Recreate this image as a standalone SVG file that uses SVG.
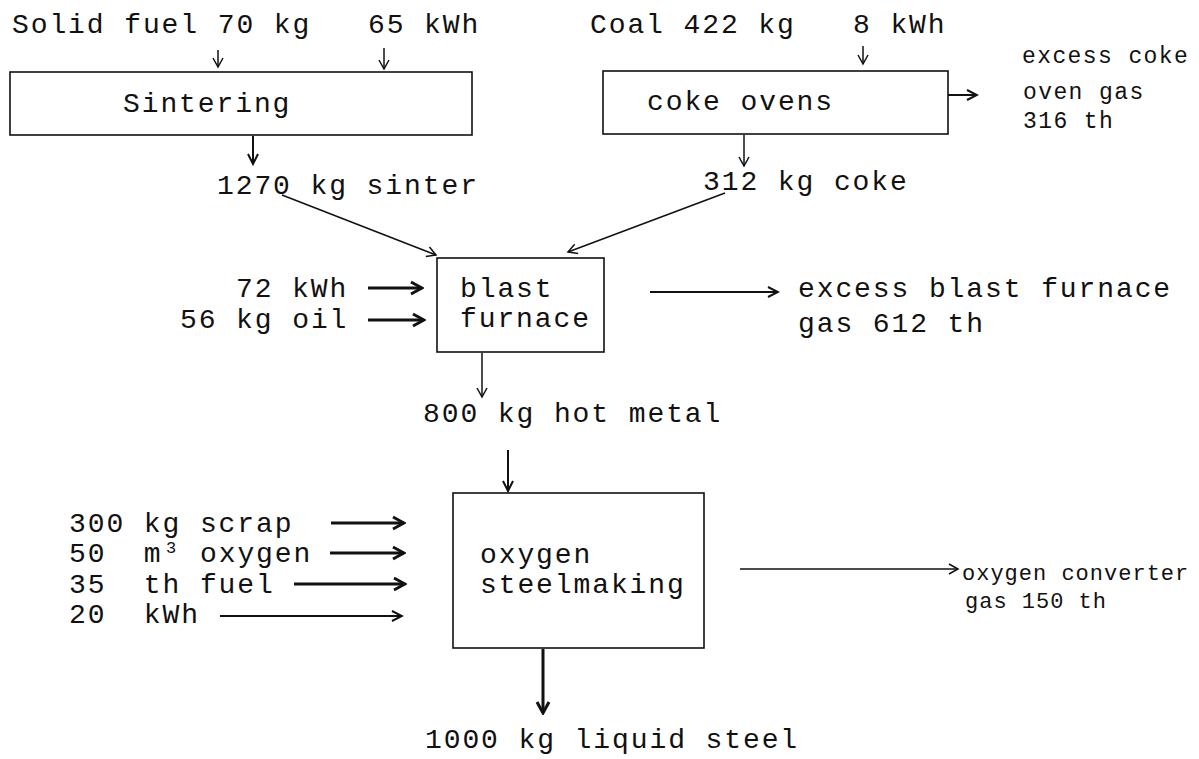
<svg xmlns="http://www.w3.org/2000/svg" width="1199" height="759" viewBox="0 0 1199 759">
<style>
text { font-family: "Liberation Mono", "Courier New", monospace; fill: #111; white-space: pre; }
.m { font-size: 28px; letter-spacing: 1.9px; }
.s { font-size: 23px; letter-spacing: 1.4px; }
.t { font-size: 22px; letter-spacing: 1.0px; }
.box { fill: none; stroke: #111; stroke-width: 1.6; }
.c1 { fill: none; stroke: #111; stroke-width: 1.5; marker-end: url(#a1); }
.c2 { fill: none; stroke: #111; stroke-width: 2; marker-end: url(#a2); }
.c3 { fill: none; stroke: #111; stroke-width: 3; marker-end: url(#a3); }
</style>
<defs>
<marker id="a1" markerUnits="userSpaceOnUse" viewBox="-14 -8 16 16" markerWidth="16" markerHeight="16" refX="0" refY="0" orient="auto">
<path d="M-9,-5 L0,0 L-9,5" fill="none" stroke="#111" stroke-width="1.5" stroke-linejoin="miter"/>
</marker>
<marker id="a2" markerUnits="userSpaceOnUse" viewBox="-14 -8 16 16" markerWidth="16" markerHeight="16" refX="0" refY="0" orient="auto">
<path d="M-10,-5 L0,0 L-10,5" fill="none" stroke="#111" stroke-width="2"/>
</marker>
<marker id="a3" markerUnits="userSpaceOnUse" viewBox="-14 -8 16 16" markerWidth="16" markerHeight="16" refX="0" refY="0" orient="auto">
<path d="M-11,-6 L0,0 L-11,6" fill="none" stroke="#111" stroke-width="3"/>
</marker>
</defs>
<rect width="1199" height="759" fill="#fff"/>

<g id="connectors">
<path class="c1" d="M218,50 V67"/>
<path class="c1" d="M384,48 V69"/>
<path class="c2" d="M253,136 V164"/>
<path class="c1" d="M863,46 V64"/>
<path class="c2" d="M948,95 H977"/>
<path class="c1" d="M744,135 V166"/>
<path class="c1" d="M282,195 L436,255"/>
<path class="c1" d="M725,193 L568,252"/>
<path class="c3" d="M368,288 H422"/>
<path class="c3" d="M368,320 H424"/>
<path class="c2" d="M650,292 H778"/>
<path class="c1" d="M482,353 V397"/>
<path class="c2" d="M508,450 V491"/>
<path class="c3" d="M331,523 H404"/>
<path class="c3" d="M330,553 H404"/>
<path class="c3" d="M294,584 H405"/>
<path class="c2" d="M220,616 H402"/>
<path class="c1" d="M740,569 H958"/>
<path class="c3" d="M543,649 V713"/>
</g>

<g id="sintering">
<rect class="box" x="10" y="72" width="462" height="63"/>
<text class="m" x="123" y="112">Sintering</text>
</g>
<g id="coke-ovens">
<rect class="box" x="603" y="71" width="345" height="63"/>
<text class="m" x="647" y="110">coke ovens</text>
</g>
<g id="blast-furnace">
<rect class="box" x="437" y="258" width="167" height="94"/>
<text class="m" x="460" y="297">blast</text>
<text class="m" x="460" y="327">furnace</text>
</g>
<g id="oxygen-steelmaking">
<rect class="box" x="453" y="493" width="251" height="155"/>
<text class="m" x="480" y="563">oxygen</text>
<text class="m" x="480" y="593">steelmaking</text>
</g>

<g id="input-solid-fuel"><text class="m" x="12" y="33">Solid fuel 70 kg</text></g>
<g id="input-sinter-kwh"><text class="m" x="368" y="33">65 kWh</text></g>
<g id="input-coal"><text class="m" x="590" y="33">Coal 422 kg</text></g>
<g id="input-coke-kwh"><text class="m" x="853" y="33">8 kWh</text></g>
<g id="output-coke-gas">
<text class="s" x="1022" y="63">excess coke</text>
<text class="s" x="1023" y="99">oven gas</text>
<text class="s" x="1023" y="128">316 th</text>
</g>
<g id="sinter"><text class="m" x="217" y="194">1270 kg sinter</text></g>
<g id="coke"><text class="m" x="703" y="190">312 kg coke</text></g>
<g id="input-bf-kwh"><text class="m" x="236" y="297">72 kWh</text></g>
<g id="input-oil"><text class="m" x="180" y="328">56 kg oil</text></g>
<g id="output-bf-gas">
<text class="m" x="798" y="297">excess blast furnace</text>
<text class="m" x="798" y="332">gas 612 th</text>
</g>
<g id="hot-metal"><text class="m" x="423" y="422">800 kg hot metal</text></g>
<g id="input-scrap"><text class="m" x="69" y="532">300 kg scrap</text></g>
<g id="input-oxygen"><text class="m" x="69" y="562">50  m<tspan x="166" font-size="17" dy="-9">3</tspan><tspan x="200" dy="9">oxygen</tspan></text></g>
<g id="input-fuel"><text class="m" x="69" y="593">35  th fuel</text></g>
<g id="input-steel-kwh"><text class="m" x="69" y="623">20  kWh</text></g>
<g id="output-converter-gas">
<text class="t" x="962" y="580">oxygen converter</text>
<text class="t" x="965" y="608">gas 150 th</text>
</g>
<g id="liquid-steel"><text class="m" x="425" y="748">1000 kg liquid steel</text></g>
</svg>
